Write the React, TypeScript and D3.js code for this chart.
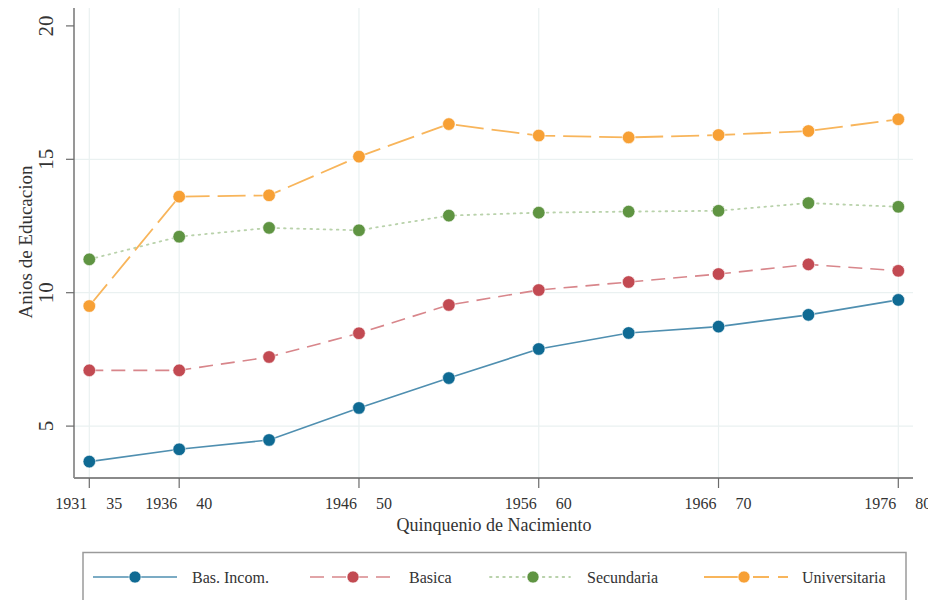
import React from "react";
import * as d3 from "d3";

const years = [1931, 1936, 1941, 1946, 1951, 1956, 1961, 1966, 1971, 1976];
const basIncom = [3.67, 4.13, 4.48, 5.68, 6.8, 7.89, 8.49, 8.73, 9.17, 9.73];
const basica = [7.09, 7.09, 7.59, 8.48, 9.54, 10.1, 10.4, 10.7, 11.06, 10.82];
const secundaria = [11.25, 12.1, 12.43, 12.34, 12.89, 13.0, 13.04, 13.07, 13.36, 13.22];
const universitaria = [9.5, 13.6, 13.65, 15.1, 16.32, 15.89, 15.82, 15.91, 16.06, 16.5];

const xTickValues = [1931, 1936, 1946, 1956, 1966, 1976];
const xTickStart = ["1931", "1936", "1946", "1956", "1966", "1976"];
const xTickEnd = ["35", "40", "50", "60", "70", "80"];
const yTickValues = [5, 10, 15, 20];
const yGridValues = [5, 10, 15];
const seriesNames = ["Bas. Incom.", "Basica", "Secundaria", "Universitaria"];

const FONT = "'Liberation Serif', 'DejaVu Serif', serif";

export default function App() {
  const width = 928;
  const height = 600;
  const left = 74;
  const right = 913;
  const top = 8;
  const bottom = 478;

  const x = d3.scaleLinear().domain([1931, 1976]).range([89.3, 898.3]);
  const y = d3.scaleLinear().domain([10, 15]).range([292.7, 159.3]);

  const seriesData = [basIncom, basica, secundaria, universitaria];
  const styles = [
    { marker: "#0f6a93", line: "#4f8fb0", dash: "none", w: 1.6 },
    { marker: "#c24a52", line: "#d8868b", dash: "14 8", w: 1.6 },
    { marker: "#5f9442", line: "#b9d2ab", dash: "1.6 5", w: 1.8 },
    { marker: "#f7a035", line: "#f8b55b", dash: "28 8", w: 1.8 },
  ];

  const line = d3
    .line<number>()
    .x((_, i) => x(years[i]))
    .y((d) => y(d));

  const legendItems = [
    { x0: 93, x1: 177, mx: 135, tx: 192 },
    { x0: 310, x1: 395, mx: 353, tx: 409 },
    { x0: 490, x1: 570, mx: 533, tx: 587 },
    { x0: 704, x1: 788, mx: 744, tx: 802 },
  ];
  const legendY = 577;

  return (
    <svg
      width={width}
      height={height}
      style={{ position: "absolute", left: 0, top: 0, display: "block", background: "#fff" }}
      fontFamily={FONT}
    >
      <rect x={0} y={0} width={width} height={height} fill="#fff" />
      {/* gridlines */}
      {yGridValues.map((v) => (
        <line key={"hg" + v} x1={left} x2={right} y1={y(v)} y2={y(v)} stroke="#eaf1f1" strokeWidth={1.2} />
      ))}
      {xTickValues.map((v) => (
        <line key={"vg" + v} x1={x(v)} x2={x(v)} y1={top} y2={bottom} stroke="#eaf1f1" strokeWidth={1.2} />
      ))}

      {/* axes */}
      <line x1={left} x2={left} y1={top} y2={bottom} stroke="#6b6b6b" strokeWidth={1.4} />
      <line x1={left} x2={right} y1={bottom} y2={bottom} stroke="#8a8a8a" strokeWidth={1.8} />
      {yTickValues.map((v) => (
        <g key={"yt" + v}>
          <line x1={left - 8} x2={left} y1={y(v)} y2={y(v)} stroke="#6b6b6b" strokeWidth={1.2} />
          <text
            transform={`translate(53,${y(v)}) rotate(-90)`}
            textAnchor="middle"
            fontSize={21}
            fill="#333"
          >
            {v}
          </text>
        </g>
      ))}
      {xTickValues.map((v, i) => (
        <g key={"xt" + v}>
          <line x1={x(v)} x2={x(v)} y1={bottom} y2={bottom + 10} stroke="#6b6b6b" strokeWidth={1.2} />
          <text x={x(v) - 2} y={509} textAnchor="end" fontSize={16} fill="#333">
            {xTickStart[i]}
          </text>
          <text x={x(v) + 17} y={509} textAnchor="start" fontSize={16} fill="#333">
            {xTickEnd[i]}
          </text>
        </g>
      ))}

      <text x={494} y={531} textAnchor="middle" fontSize={18} fill="#333">
        Quinquenio de Nacimiento
      </text>
      <text transform="translate(32,242) rotate(-90)" textAnchor="middle" fontSize={19} fill="#333">
        Anios de Educacion
      </text>

      {/* series */}
      {seriesData.map((s, k) => (
        <g key={"s" + k}>
          <path
            d={line(s) || ""}
            fill="none"
            stroke={styles[k].line}
            strokeWidth={styles[k].w}
            strokeDasharray={styles[k].dash}
            strokeLinecap={k === 2 ? "round" : "butt"}
          />
          {s.map((v, i) => (
            <circle
              key={i}
              cx={x(years[i])}
              cy={y(v)}
              r={6.3}
              fill={styles[k].marker}
              stroke="#fff"
              strokeWidth={0.6}
            />
          ))}
        </g>
      ))}

      {/* legend */}
      <rect x={83} y={552.5} width={823} height={60} fill="#fff" stroke="#9a9a9a" strokeWidth={1.5} />
      {legendItems.map((it, k) => (
        <g key={"lg" + k}>
          <line
            x1={it.x0}
            x2={it.x1}
            y1={legendY}
            y2={legendY}
            stroke={styles[k].line}
            strokeWidth={styles[k].w}
            strokeDasharray={k === 3 ? "40 9 16 9" : k === 1 ? "14 8" : styles[k].dash}
            strokeLinecap={k === 2 ? "round" : "butt"}
          />
          <circle cx={it.mx} cy={legendY} r={6} fill={styles[k].marker} stroke="#fff" strokeWidth={0.6} />
          <text x={it.tx} y={legendY + 6} fontSize={16} fill="#333">
            {seriesNames[k]}
          </text>
        </g>
      ))}
    </svg>
  );
}
